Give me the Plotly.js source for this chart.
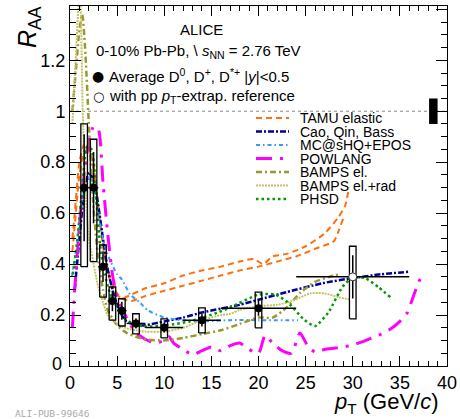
<!DOCTYPE html>
<html>
<head>
<meta charset="utf-8">
<script src="https://cdn.plot.ly/plotly-3.0.1.min.js"></script>
<style>html,body{margin:0;padding:0;background:#fff;}#chart{width:460px;height:419px;}</style>
</head>
<body>
<div id="chart"></div>
<script>
// ---------------- data ----------------
const ptData   = [1.5, 2.5, 3.5, 4.5, 5.5, 7, 10, 14, 20];
const raaData  = [0.70, 0.70, 0.39, 0.255, 0.217, 0.167, 0.151, 0.18, 0.227];
const statData = [0.21, 0.14, 0.06, 0.04, 0.035, 0.02, 0.02, 0.025, 0.03];
const binHalf  = [0.5, 0.5, 0.5, 0.5, 0.5, 1, 2, 2, 4];
const sysLow   = [0.39, 0.41, 0.27, 0.18, 0.157, 0.126, 0.11, 0.13, 0.15];
const sysHigh  = [0.95, 0.89, 0.475, 0.31, 0.264, 0.205, 0.185, 0.228, 0.29];

const ptExtrap   = [30];
const raaExtrap  = [0.35];
const statExtrap = [0.085];
const binExtrap  = [6];
const sysLowEx   = [0.185];
const sysHighEx  = [0.47];

const normX = 38.55, normHalfW = 0.45, normUnc = 0.05;

const tamuPt1 = [0.25,0.5,1,1.5,2,2.5,3,3.5,4,4.5,5,5.5,6.5,8,10,12,14,16,18,19.5,20.5,21.5,23,25,27,28.5,29.2,29.6];
const tamuR1  = [0.5,0.6,0.8,0.87,0.86,0.78,0.62,0.47,0.37,0.31,0.28,0.265,0.28,0.305,0.325,0.355,0.375,0.39,0.41,0.42,0.40,0.43,0.44,0.47,0.52,0.585,0.63,0.70];
const tamuPt2 = [0.25,0.5,1,1.5,2,2.5,3,3.5,4,4.5,5,5.5,6.5,8,10,12,14,16,18,20,22,24,26,28,28.5,29];
const tamuR2  = [0.45,0.55,0.75,0.84,0.85,0.78,0.63,0.48,0.38,0.32,0.285,0.265,0.255,0.275,0.295,0.315,0.335,0.355,0.375,0.39,0.41,0.43,0.46,0.49,0.53,0.58];

const caoPt = [0.5,1,1.5,2,2.5,3,3.5,4,4.5,5,5.5,6,7,8,10,12,14,16,18,20,23,26.8,30,33,36];
const caoR  = [0.3,0.5,0.68,0.76,0.73,0.63,0.5,0.38,0.3,0.24,0.2,0.175,0.16,0.16,0.175,0.19,0.21,0.225,0.24,0.26,0.29,0.325,0.345,0.36,0.37];

const mcPt = [0.2,0.7,1.2,1.7,2.2,2.7,3.2,3.7,4.2,5,5.5,6.4,7.4,8.2,10,11.7,14,17,20,24.2];
const mcR  = [0.35,0.47,0.62,0.72,0.74,0.67,0.56,0.47,0.42,0.36,0.34,0.28,0.25,0.22,0.19,0.18,0.175,0.18,0.18,0.18];

const powPt = [0.25,0.5,1,1.5,2,2.5,3,3.5,4,4.5,5,6,7,8,9,10,10.5,11,12,13,14,15,16,17,18,19,20,20.7,21.5,22.5,23.5,24.4,25.2,26,27,28,29,30,31,32,33,34,35,35.8,36.3,37,37.3];
const powR  = [0.15,0.3,0.55,0.75,0.88,0.94,0.93,0.72,0.52,0.36,0.27,0.19,0.13,0.105,0.09,0.1,0.115,0.09,0.065,0.045,0.06,0.075,0.06,0.08,0.09,0.065,0.05,0.12,0.09,0.06,0.05,0.13,0.08,0.055,0.065,0.07,0.075,0.083,0.095,0.11,0.125,0.145,0.175,0.21,0.26,0.33,0.35];

const bampsPt = [0.25,0.6,1.0,1.3,1.6,2.0,2.5,3.0,3.5,4,5,6,7,8,10,12,14,16,18,20,21.5,23,24.5,26,27.5,28.7];
const bampsR  = [1.0,1.15,1.32,1.38,1.25,0.95,0.62,0.42,0.3,0.22,0.16,0.13,0.115,0.105,0.1,0.11,0.125,0.14,0.165,0.19,0.19,0.23,0.29,0.33,0.35,0.36];

const radPt = [0.25,0.6,0.9,1.05,1.2,1.35,1.6,2.0,2.5,3.0,3.5,4,5,6,7,8,10,12,14,16,17,18,20,22,23.5,25.5,27,28.5,29.8];
const radR  = [0.95,1.2,1.42,1.5,1.3,1.0,0.72,0.5,0.4,0.31,0.25,0.2,0.165,0.148,0.14,0.135,0.135,0.15,0.18,0.2,0.205,0.22,0.235,0.24,0.255,0.285,0.285,0.27,0.26];

const phsdPt = [0.3,0.8,1.3,1.8,2.3,2.8,3.2,3.7,4.2,5,6,7.8,10.3,12.7,15.7,17,20,21.8,23.1,24.9,26,27.4,28.9,29.9,31.3,32.7,34];
const phsdR  = [0.36,0.5,0.7,0.86,0.85,0.65,0.47,0.36,0.29,0.23,0.18,0.155,0.16,0.175,0.21,0.23,0.28,0.28,0.25,0.18,0.157,0.21,0.31,0.345,0.345,0.31,0.27];

const modelNames = ['TAMU elastic','Cao, Qin, Bass','MC@sHQ+EPOS','POWLANG','BAMPS el.','BAMPS el.+rad','PHSD'];

const yTickVals = [0.2,0.4,0.6,0.8,1,1.2,1.4];
const yTickText = ['0.2','0.4','0.6','0.8','1','1.2','1.4'];
const yZeroLabel = '0';

// ---------------- styles ----------------
const styles = [
  {color:'#ff6f0f', dash:'6px,4px', width:2},
  {color:'#000099', dash:'6px,2px,2px,2px', width:2.5},
  {color:'#3399ff', dash:'4px,3px,1.5px,3px', width:2},
  {color:'#ff00ff', dash:'16px,8px,3px,8px', width:3},
  {color:'#999933', dash:'6px,3px,2px,3px', width:2.5},
  {color:'#c2c266', dash:'2px,1px', width:2},
  {color:'#009900', dash:'2.5px,3px', width:2.5}
];

function line(x, y, s) {
  return {type:'scatter', mode:'lines', x:x, y:y, showlegend:false, hoverinfo:'skip',
          line:{color:s.color, dash:s.dash, width:s.width, shape:'spline', smoothing:0.6}};
}

const traces = [
  line(tamuPt1, tamuR1, styles[0]),
  line(tamuPt2, tamuR2, styles[0]),
  line(caoPt, caoR, styles[1]),
  line(mcPt, mcR, styles[2]),
  line(powPt, powR, styles[3]),
  line(bampsPt, bampsR, styles[4]),
  line(radPt, radR, styles[5]),
  line(phsdPt, phsdR, styles[6])
];

// systematic boxes
const boxHalf = 0.35;
function boxes(pts, lo, hi) {
  const bx = [], by = [];
  pts.forEach((p, i) => {
    bx.push(p-boxHalf, p+boxHalf, p+boxHalf, p-boxHalf, p-boxHalf, null);
    by.push(lo[i], lo[i], hi[i], hi[i], lo[i], null);
  });
  return {type:'scatter', mode:'lines', x:bx, y:by, showlegend:false, hoverinfo:'skip',
          line:{color:'#000', width:1.3}};
}
traces.push(boxes(ptData, sysLow, sysHigh));
traces.push(boxes(ptExtrap, sysLowEx, sysHighEx));

traces.push({type:'scatter', mode:'markers', x:ptData, y:raaData, showlegend:false,
  marker:{symbol:'circle', size:8, color:'#000'},
  error_y:{type:'data', array:statData, color:'#000', thickness:1.5, width:0},
  error_x:{type:'data', array:binHalf, color:'#000', thickness:1.5, width:0}});
traces.push({type:'scatter', mode:'markers', x:ptExtrap, y:raaExtrap, showlegend:false,
  marker:{symbol:'circle', size:8, color:'#fff', line:{color:'#333', width:1}},
  error_y:{type:'data', array:statExtrap, color:'#000', thickness:1.5, width:0},
  error_x:{type:'data', array:binExtrap, color:'#000', thickness:1.5, width:0}});

// ---------------- layout helpers ----------------
const L = 70, R = 447, T = 6, B = 366;
const px = p => (p - L) / (R - L);
const py = p => (B - p) / (B - T);
const FONT = 'Liberation Sans, Arial, Helvetica, sans-serif';

const annotations = [
  {text:'<i>R</i><sub>AA</sub>', x:px(29), y:py(27), xref:'paper', yref:'paper', textangle:-90,
   showarrow:false, font:{size:25, family:FONT, color:'#000'}, xanchor:'center', yanchor:'middle'},
  {text:'<i>p</i><sub>T</sub> (GeV/<i>c</i>)', x:px(441), y:py(403), xref:'paper', yref:'paper',
   showarrow:false, font:{size:22, family:FONT, color:'#000'}, xanchor:'right', yanchor:'middle'},
  {text:' ' + yZeroLabel + ' ', x:px(69), y:py(364), xref:'paper', yref:'paper', showarrow:false,
   font:{size:18, family:FONT, color:'#000'}, xanchor:'right', yanchor:'middle'},
  {text:'ALICE', x:px(201), y:py(30), xref:'paper', yref:'paper', showarrow:false,
   font:{size:15, family:FONT, color:'#000'}, xanchor:'center', yanchor:'middle'},
  {text:'0-10% Pb-Pb, \\ <i>s</i><sub>NN</sub> = 2.76 TeV', x:px(94), y:py(51), xref:'paper', yref:'paper', showarrow:false,
   font:{size:15, family:FONT, color:'#000'}, xanchor:'left', yanchor:'middle'},
  {text:'●', x:px(98), y:py(76), xref:'paper', yref:'paper', showarrow:false,
   font:{size:14, family:'DejaVu Sans', color:'#000'}, xanchor:'center', yanchor:'middle'},
  {text:'Average D<sup>0</sup>, D<sup>+</sup>, D<sup>*+</sup> |<i>y</i>|&lt;0.5', x:px(107), y:py(76), xref:'paper', yref:'paper', showarrow:false,
   font:{size:15, family:FONT, color:'#000'}, xanchor:'left', yanchor:'middle'},
  {text:'○', x:px(98), y:py(96), xref:'paper', yref:'paper', showarrow:false,
   font:{size:13, family:'DejaVu Sans', color:'#000'}, xanchor:'center', yanchor:'middle'},
  {text:'with pp <i>p</i><sub>T</sub>-extrap. reference', x:px(107), y:py(96), xref:'paper', yref:'paper', showarrow:false,
   font:{size:15, family:FONT, color:'#000'}, xanchor:'left', yanchor:'middle'},
  {text:'ALI-PUB-99646', x:px(13), y:py(413), xref:'paper', yref:'paper', showarrow:false,
   font:{size:9.5, family:'DejaVu Sans Mono, Liberation Mono, monospace', color:'#aaaaaa'}, xanchor:'left', yanchor:'middle'}
];

const shapes = [
  {type:'line', xref:'paper', yref:'y', x0:0, x1:1, y0:1, y1:1, line:{color:'#888', width:1, dash:'3px,3px'}, layer:'below'},
  {type:'rect', xref:'x', yref:'y', x0:normX-normHalfW, x1:normX+normHalfW, y0:1-normUnc, y1:1+normUnc,
   fillcolor:'#000', line:{width:0}}
];

// legend rows
modelNames.forEach((name, i) => {
  const yy = 118 + 13.5*i;
  const s = styles[i];
  shapes.push({type:'line', xref:'paper', yref:'paper', x0:px(256), x1:px(289), y0:py(yy), y1:py(yy),
    line:{color:s.color, dash:s.dash, width:s.width}});
  annotations.push({text:name, x:px(298), y:py(yy), xref:'paper', yref:'paper', showarrow:false,
    font:{size:14, family:FONT, color:'#000'}, xanchor:'left', yanchor:'middle'});
});

const axisCommon = {
  showgrid:false, zeroline:false, showline:true, linecolor:'#000', linewidth:1,
  mirror:'ticks', ticks:'inside', tickcolor:'#000', tickwidth:1,
  tickfont:{size:18, family:FONT, color:'#000'}
};

const layout = {
  width:460, height:419,
  margin:{l:L, r:460-R, t:T, b:419-B},
  paper_bgcolor:'#fff', plot_bgcolor:'#fff',
  showlegend:false,
  font:{family:FONT},
  xaxis:Object.assign({}, axisCommon, {
    range:[0,40], tickmode:'linear', tick0:0, dtick:5, ticklen:10,
    minor:{dtick:1, ticklen:5, ticks:'inside', tickcolor:'#000', tickwidth:1, showgrid:false}
  }),
  yaxis:Object.assign({}, axisCommon, {
    range:[0,1.413], tickmode:'array', tickvals:yTickVals,
    ticktext:yTickText, ticklen:11,
    minor:{tickmode:'linear', tick0:0, dtick:0.05, ticklen:6, ticks:'inside', tickcolor:'#000', tickwidth:1, showgrid:false}
  }),
  annotations:annotations,
  shapes:shapes
};

Plotly.newPlot('chart', traces, layout, {displayModeBar:false, staticPlot:true});
</script>
</body>
</html>
